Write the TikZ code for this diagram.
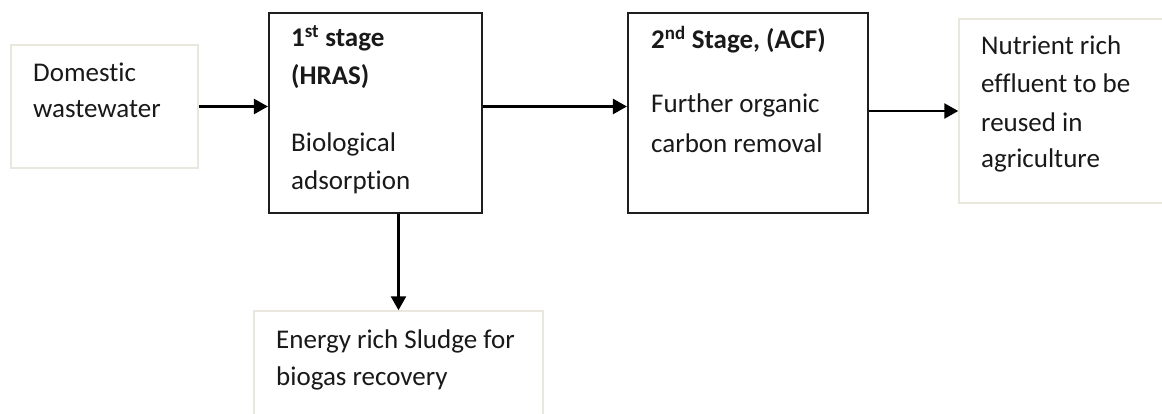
\documentclass[tikz,border=0pt]{standalone}
\usepackage{fontspec}
\setmainfont{Carlito}[Ligatures=NoCommon]
\usetikzlibrary{arrows.meta}
\definecolor{lightedge}{RGB}{234,231,220}
\definecolor{darkedge}{RGB}{30,30,30}
\tikzset{
  lightbox/.style={draw=lightedge, line width=1.5pt, fill=white, inner sep=0pt},
  darkbox/.style={draw=darkedge, line width=2.2pt, fill=white, inner sep=0pt},
  txt/.style={anchor=base west, inner sep=0pt, font=\fontsize{27}{37}\selectfont, text=black!90},
  boldtxt/.style={txt, font=\fontsize{27}{37}\bfseries\selectfont},
  arr/.style={line width=2.6pt, draw=black, -{Triangle[length=14pt,width=15pt]}},
}
\begin{document}
\begin{tikzpicture}[x=1pt,y=-1pt]
\useasboundingbox (0,0) rectangle (1162,414);
% boxes
\node[lightbox, minimum width=187pt, minimum height=123pt] (dom) at (104.5,106.5) {};
\node[darkbox, minimum width=213pt, minimum height=200pt] (b1) at (375.5,113) {};
\node[darkbox, minimum width=240pt, minimum height=200pt] (b2) at (748,113) {};
\node[lightbox, minimum width=215pt, minimum height=184pt] (nut) at (1066.5,111) {};
\node[lightbox, minimum width=289pt, minimum height=112pt] (sl) at (398.5,367) {};
% texts
\node[txt] (t1) at (33,82) {Domestic};
\node[txt] (t2) at (33,118) {wastewater};
\node[boldtxt] (t3) at (291,47) {1\textsuperscript{st} stage};
\node[boldtxt] (t4) at (291,85) {(HRAS)};
\node[txt] (t5) at (291,152) {Biological};
\node[txt] (t6) at (291,190) {adsorption};
\node[boldtxt] (t7) at (651,49) {2\textsuperscript{nd} Stage, (ACF)};
\node[txt] (t8) at (651,113) {Further organic};
\node[txt] (t9) at (651,153) {carbon removal};
\node[txt] (t10) at (981,55) {Nutrient rich};
\node[txt] (t11) at (981,93) {effluent to be};
\node[txt] (t12) at (981,132) {reused in};
\node[txt] (t13) at (981,168) {agriculture};
\node[txt] (t14) at (276,348) {Energy rich Sludge for};
\node[txt] (t15) at (276,385) {biogas recovery};
% arrows
\draw[arr] (dom.east) -- (dom.east -| b1.west);
\draw[arr] (b1.east |- dom.east) -- (b2.west |- dom.east);
\draw[arr] (b2.east |- nut.west) -- (nut.west);
\draw[arr] (sl.north |- b1.south) -- (sl.north);
\end{tikzpicture}
\end{document}
